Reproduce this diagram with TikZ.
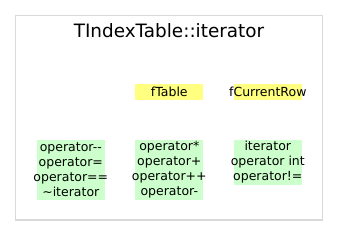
\documentclass[tikz,border=0pt]{standalone}
\usepackage{fontspec}
\setmainfont{DejaVu Sans}
\definecolor{attrfill}{RGB}{255,255,128}
\definecolor{funcfill}{RGB}{204,255,204}
\definecolor{framegray}{RGB}{217,217,217}
% lines wider than the box hang out evenly on both sides
\newcommand{\wide}[1]{\makebox[0pt]{#1}}
\begin{document}
\begin{tikzpicture}[x=1bp,y=1bp,
  every node/.style={font=\fontsize{12.5bp}{15bp}\selectfont,inner sep=0pt},
  member/.style={minimum width=68bp,align=center},
  attr/.style={member,fill=attrfill,minimum height=15.7bp},
  func/.style={member,fill=funcfill}]
\useasboundingbox (0,0) rectangle (339,247);
\draw[framegray,line width=1.4bp] (15.7,27) rectangle (322.7,231.3);
\node[anchor=base,font=\fontsize{18.4bp}{21bp}\selectfont] (title) at (169,210) {TIndexTable::iterator};
% data members
\node[attr] (fTable) at (169.3,155.2) {\wide{fTable}};
\node[attr] (fCurrentRow) at (267.8,155.2) {\wide{fCurrentRow}};
% member functions (the kern keeps -- from becoming a dash)
\node[func,minimum height=60bp] (opsA) at (70.8,77)
  {\wide{operator-\kern0pt-}\\\wide{operator=}\\\wide{operator==}\\\wide{\textasciitilde iterator}};
\node[func,minimum height=60bp] (opsB) at (169.3,77)
  {\wide{operator*}\\\wide{operator+}\\\wide{operator++}\\\wide{operator-}};
\node[func,minimum height=45bp] (opsC) at (267.8,84.5)
  {\wide{iterator}\\\wide{operator int}\\\wide{operator!=}};
\end{tikzpicture}
\end{document}
